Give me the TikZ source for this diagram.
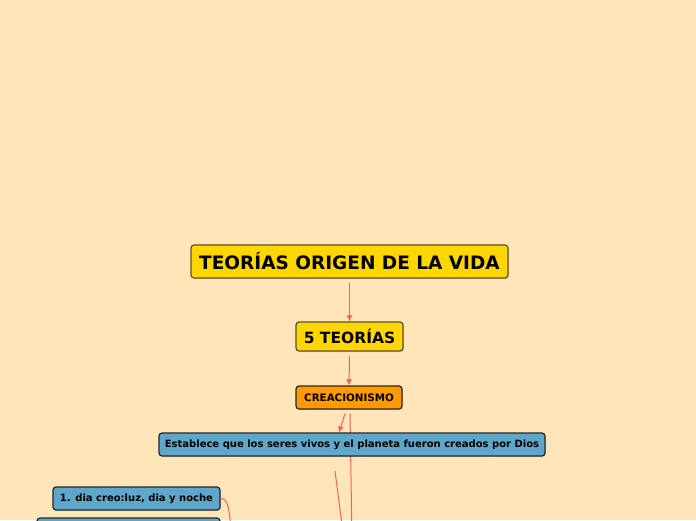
\documentclass[tikz,border=0pt]{standalone}
\usepackage{fontspec}
\setmainfont{DejaVu Sans}
\usetikzlibrary{shadows,arrows.meta}
\definecolor{bgcol}{HTML}{FFE5B8}
\definecolor{topcol}{HTML}{FFD700}
\definecolor{orgcol}{HTML}{FF9A00}
\definecolor{bluecol}{HTML}{5EA7CA}
\definecolor{linkcol}{HTML}{EB6262}
\definecolor{rimcol}{HTML}{5E4F28}
\tikzstyle{topbox}=[rectangle,rounded corners=3pt,draw=rimcol,fill=topcol,
                    line width=1.2pt,font=\bfseries\fontsize{15.5}{18}\selectfont,
                    inner sep=0pt,
                    drop shadow={shadow xshift=1pt,shadow yshift=-1pt,opacity=0.25}]
\tikzstyle{subbox}=[rectangle,rounded corners=3pt,draw=black!85,fill=bluecol,
                    line width=1.2pt,font=\bfseries\fontsize{10}{12}\selectfont,
                    inner sep=0pt,minimum height=23pt,
                    drop shadow={shadow xshift=1pt,shadow yshift=-1pt,opacity=0.25}]
\tikzstyle{link}=[draw=linkcol,line width=1pt]
\tikzstyle{linkarrow}=[link,-{Latex[length=6pt,width=6pt]}]

\begin{document}
\begin{tikzpicture}[x=1pt,y=-1pt]
    \fill[bgcol] (0,0) rectangle (696,520);
    \useasboundingbox (0,0) rectangle (696,520);
    % main chain
    \node (root) at (349.5,261.5) [topbox,minimum width=317pt,minimum height=33pt,
          font=\bfseries\fontsize{18.5}{21}\selectfont]
          {TEORÍAS ORIGEN DE LA VIDA};
    \node (five) at (349.5,336.5) [topbox,minimum width=107pt,minimum height=29pt]
          {5 TEORÍAS};
    \node (crea) at (349,397.5) [subbox,fill=orgcol,minimum width=106pt,
          font=\bfseries\fontsize{10.3}{12}\selectfont]
          {CREACIONISMO};
    % long line runs behind the next box
    \coordinate (endA) at (352,540);
    \draw[link] ([xshift=1pt,yshift=-4pt]crea.south) -- (endA);
    \node (estab) at (352,444.5) [subbox,minimum width=386pt]
          {Establece que los seres vivos y el planeta fueron creados por Dios};
    \node (dia1) at (136.5,498.5) [subbox,minimum width=167pt]
          {1. dia creo:luz, dia y noche};
    \node (dia2) at (128.5,529.5) [subbox,minimum width=183pt] {};
    % loose ends below the page
    \coordinate (endB) at (344,540);
    \coordinate (endC) at (232,540);
    \coordinate (startB) at (335,471);
    \draw[linkarrow] ([yshift=-4pt]root.south) -- (five.north);
    \draw[linkarrow] ([yshift=-4pt]five.south) -- (crea.north);
    \draw[linkarrow] ([xshift=-4pt,yshift=-4pt]crea.south) -- ([xshift=-13pt]estab.north);
    \draw[link] (startB) -- (endB);
    \draw[link] (dia1.east) .. controls (228,499) and (229,505) .. (endC);
  \end{tikzpicture}
\end{document}
